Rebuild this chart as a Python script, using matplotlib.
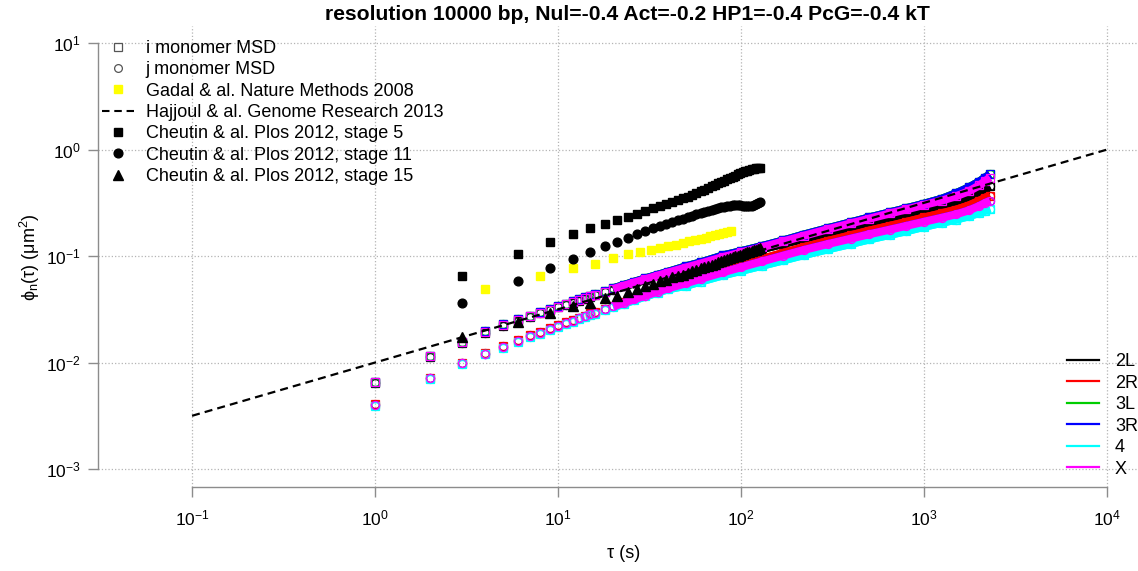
import numpy as np
import matplotlib
matplotlib.use("Agg")
import matplotlib.pyplot as plt
from matplotlib.lines import Line2D
from matplotlib.ticker import NullLocator

plt.rcParams['font.family'] = ['Liberation Sans', 'DejaVu Sans']
plt.rcParams['mathtext.default'] = 'regular'

# ---------------- data ----------------
# simulation lag times (s)
tau_sim = [1, 2, 3, 4, 5, 6, 7, 8, 9, 10, 11, 12, 13, 14, 15, 16, 18, 20, 23, 26, 30, 35, 40,
           50, 60, 80, 100, 130, 170, 220, 300, 400, 500, 650, 800, 1000, 1250, 1500, 1750,
           2000, 2150, 2290]

# upper band (top edge / middle / lower edge)
msd_up_a = [.0066, .0116, .0157, .0196, .0228, .0254, .0276, .0297, .0318, .0339, .0357, .0376,
            .0393, .0409, .0424, .0440, .0469, .0497, .0536, .0572, .0616, .0666, .0712,
            .080, .087, .1015, .111, .124, .140, .159, .183, .208, .230, .257, .281, .310, .345,
            .390, .440, .500, .545, .585]
msd_up_b = [.0065, .0114, .0155, .0193, .0225, .0250, .0272, .0293, .0314, .0334, .0352, .0370,
            .0387, .0403, .0418, .0433, .0462, .0490, .0528, .0563, .0606, .0655, .0700,
            .078, .085, .098, .108, .121, .137, .155, .179, .203, .224, .251, .274, .302, .332,
            .365, .405, .460, .505, .545]
msd_up_c = [.0064, .0112, .0153, .0190, .0222, .0246, .0268, .0289, .0309, .0329, .0347, .0364,
            .0381, .0397, .0412, .0427, .0455, .0482, .0520, .0554, .0597, .0645, .0689,
            .075, .082, .094, .104, .116, .130, .145, .164, .184, .202, .224, .244, .268, .295,
            .322, .355, .395, .425, .450]
# lower band (top edge / middle / bottom edge)
msd_lo_a = [.0041, .0072, .0100, .0123, .0144, .0162, .0180, .0195, .0210, .0224, .0239, .0252,
            .0264, .0276, .0289, .0300, .0321, .0343, .0372, .0400, .0434, .0472, .0508,
            .058, .064, .074, .083, .094, .107, .121, .139, .157, .173, .192, .209, .230, .252,
            .273, .298, .330, .352, .370]
msd_lo_b = [.0040, .0071, .0098, .0121, .0141, .0159, .0176, .0191, .0206, .0220, .0234, .0247,
            .0259, .0271, .0283, .0294, .0315, .0336, .0365, .0392, .0425, .0463, .0498,
            .0555, .061, .0705, .0785, .089, .101, .114, .130, .146, .160, .177, .192, .210,
            .229, .247, .268, .295, .315, .330]
msd_lo_c = [.0039, .0070, .0096, .0119, .0138, .0156, .0172, .0187, .0202, .0216, .0229, .0242,
            .0254, .0266, .0277, .0288, .0309, .0329, .0358, .0384, .0417, .0454, .0488,
            .0525, .0575, .066, .0725, .081, .091, .102, .116, .130, .143, .158, .171, .188,
            .205, .220, .236, .254, .266, .278]

chromosomes = ['2L', '2R', '3L', '3R', '4', 'X']
chrom_colors = ['black', 'red', '#00CD00', 'blue', 'cyan', 'magenta']
msd_i = {'2L': msd_up_c, '2R': msd_lo_a, '3L': msd_up_a, '3R': msd_up_a, '4': msd_lo_c, 'X': msd_up_b}
msd_j = {'2L': msd_up_c, '2R': msd_lo_a, '3L': msd_up_a, '3R': msd_lo_b, '4': msd_lo_c, 'X': msd_lo_b}

# Hajjoul & al. 2013 reference line (end points)
hajjoul_tau = [0.1, 10000]
hajjoul_msd = [0.00316, 1.0]

# Cheutin & al. 2012
cheutin_tau = [3, 6, 9, 12, 15, 18, 21, 24, 27, 30, 33, 36, 39, 42, 45, 48, 51, 54, 57, 60, 63,
               66, 69, 72, 75, 78, 81, 84, 87, 90, 93, 96, 99, 102, 105, 108, 111, 114, 117, 120,
               123, 126]
cheutin_st5 = [.065, .104, .135, .160, .183, .200, .218, .232, .248, .264, .280, .295, .310, .322,
               .335, .350, .360, .375, .390, .405, .420, .435, .450, .465, .480, .495, .510, .525,
               .540, .555, .570, .585, .600, .612, .625, .635, .645, .655, .660, .665, .672, .678]
cheutin_st11 = [.036, .058, .078, .094, .109, .123, .136, .149, .161, .172, .182, .192, .201, .209,
                .217, .225, .232, .240, .247, .254, .260, .266, .272, .277, .282, .287, .291,
                .295, .298, .300, .301, .301, .300, .298, .296, .295, .295, .297, .301, .307,
                .314, .320]
cheutin_st15 = [.0173, .024, .029, .0336, .0366, .040, .0425, .046, .049, .052, .055, .058, .060,
                .063, .065, .067, .070, .072, .074, .077, .079, .081, .083, .085, .087, .089,
                .091, .093, .095, .097, .099, .100, .102, .104, .106, .108, .109, .111, .113,
                .114, .116, .118]

# Gadal & al. 2008
gadal_tau = [4, 8, 12, 16, 20, 24, 28, 32, 36, 40, 44, 48, 52, 56, 60, 64, 68, 72, 76, 80, 84, 88]
gadal_msd = [.0487, .0653, .078, .085, .096, .104, .108, .113, .118, .123, .128, .133, .137, .141,
             .145, .149, .153, .157, .161, .164, .167, .170]

x_ticks = [1e-1, 1e0, 1e1, 1e2, 1e3, 1e4]
y_ticks = [1e-3, 1e-2, 1e-1, 1e0, 1e1]

# ---------------- figure ----------------
W_PX, H_PX = 1138, 571
fig = plt.figure(figsize=(W_PX / 100, H_PX / 100), dpi=100)
left, right, top, bottom = 98, 1146, 26, 487
ax = fig.add_axes([left / W_PX, 1 - bottom / H_PX, (right - left) / W_PX, (bottom - top) / H_PX])
ax.set_xscale('log')
ax.set_yscale('log')
ax.set_xlim(10 ** -1.514, 10 ** 4.212)
ax.set_ylim(10 ** -3.169, 10 ** 1.16)

ax.set_xticks(x_ticks)
ax.set_yticks(y_ticks)
ax.xaxis.set_minor_locator(NullLocator())
ax.yaxis.set_minor_locator(NullLocator())
ax.grid(True, which='major', linestyle=':', color='#b4b4b4', linewidth=0.9)
ax.set_axisbelow(True)
for s in ['top', 'right']:
    ax.spines[s].set_visible(False)
ax.spines['left'].set_bounds(1e-3, 1e1)
ax.spines['bottom'].set_bounds(1e-1, 1e4)
for s in ['left', 'bottom']:
    ax.spines[s].set_color('#8c8c8c')
    ax.spines[s].set_linewidth(1.0)
ax.tick_params(axis='both', which='major', direction='out', length=7.5, width=1.0,
               color='#8c8c8c', labelsize=12.5, labelcolor='black')
ax.tick_params(axis='x', pad=8)
ax.tick_params(axis='y', pad=5)

# simulation data
dense_start = tau_sim.index(20)
for c, col in zip(chromosomes, chrom_colors):
    for series, mk in ((msd_i[c], 's'), (msd_j[c], 'o')):
        ax.plot(tau_sim[dense_start:], series[dense_start:], '-', color=col, lw=5.8,
                solid_capstyle='butt', zorder=2)
        ax.plot(tau_sim, series, linestyle='none', marker=mk, ms=5.8, mfc='none', mec=col,
                mew=0.9, zorder=2)

# experiments
ax.plot(gadal_tau, gadal_msd, 's', color='yellow', ms=6.2, mec='yellow', zorder=3)
ax.plot(cheutin_tau, cheutin_st5, 's', color='black', ms=6.2, zorder=3)
ax.plot(cheutin_tau, cheutin_st11, 'o', color='black', ms=6.3, zorder=3)
ax.plot(cheutin_tau, cheutin_st15, '^', color='black', ms=7.0, zorder=3)
ax.plot(hajjoul_tau, hajjoul_msd, color='black', lw=1.6, linestyle=(0, (3.6, 2.3)), zorder=4)

# legends
h_leg = [
    Line2D([], [], ls='none', marker='s', mfc='none', mec='#555555', ms=5.6, mew=0.9),
    Line2D([], [], ls='none', marker='o', mfc='none', mec='#555555', ms=5.6, mew=0.9),
    Line2D([], [], ls='none', marker='s', color='yellow', ms=6.2),
    Line2D([], [], color='black', lw=1.5, linestyle=(0, (3.6, 2.3))),
    Line2D([], [], ls='none', marker='s', color='black', ms=6.2),
    Line2D([], [], ls='none', marker='o', color='black', ms=6.3),
    Line2D([], [], ls='none', marker='^', color='black', ms=7.0),
]
l_leg = ['i monomer MSD', 'j monomer MSD', 'Gadal & al. Nature Methods 2008',
         'Hajjoul & al. Genome Research 2013', 'Cheutin & al. Plos 2012, stage 5',
         'Cheutin & al. Plos 2012, stage 11', 'Cheutin & al. Plos 2012, stage 15']
leg1 = ax.legend(h_leg, l_leg, loc='upper left', bbox_to_anchor=(102 / W_PX, 1 - 40 / H_PX),
                 bbox_transform=fig.transFigure, frameon=False, fontsize=13,
                 handlelength=1.77, handletextpad=0.66, labelspacing=0.24,
                 borderpad=0, borderaxespad=0)
ax.add_artist(leg1)

h_chr = [Line2D([], [], color=col, lw=1.6) for col in chrom_colors]
leg2 = ax.legend(h_chr, chromosomes, loc='upper left', bbox_to_anchor=(1067 / W_PX, 1 - 353 / H_PX),
                 bbox_transform=fig.transFigure, frameon=False, fontsize=13,
                 handlelength=1.77, handletextpad=0.89, labelspacing=0.25,
                 borderpad=0, borderaxespad=0)

# titles / labels
fig.text(627 / W_PX, 1 - 15 / H_PX, 'resolution 10000 bp, Nul=-0.4 Act=-0.2 HP1=-0.4 PcG=-0.4 kT',
         ha='center', va='center', fontsize=15.2, fontweight='bold')
fig.text(624 / W_PX, 1 - 553 / H_PX, 'τ (s)', ha='center', va='center', fontsize=13)
fig.text(30 / W_PX, 1 - 257 / H_PX, 'ϕ$_n$(τ) (μm$^2$)', ha='center', va='center',
         rotation=90, fontsize=13)

fig.savefig('out.png', dpi=100)
